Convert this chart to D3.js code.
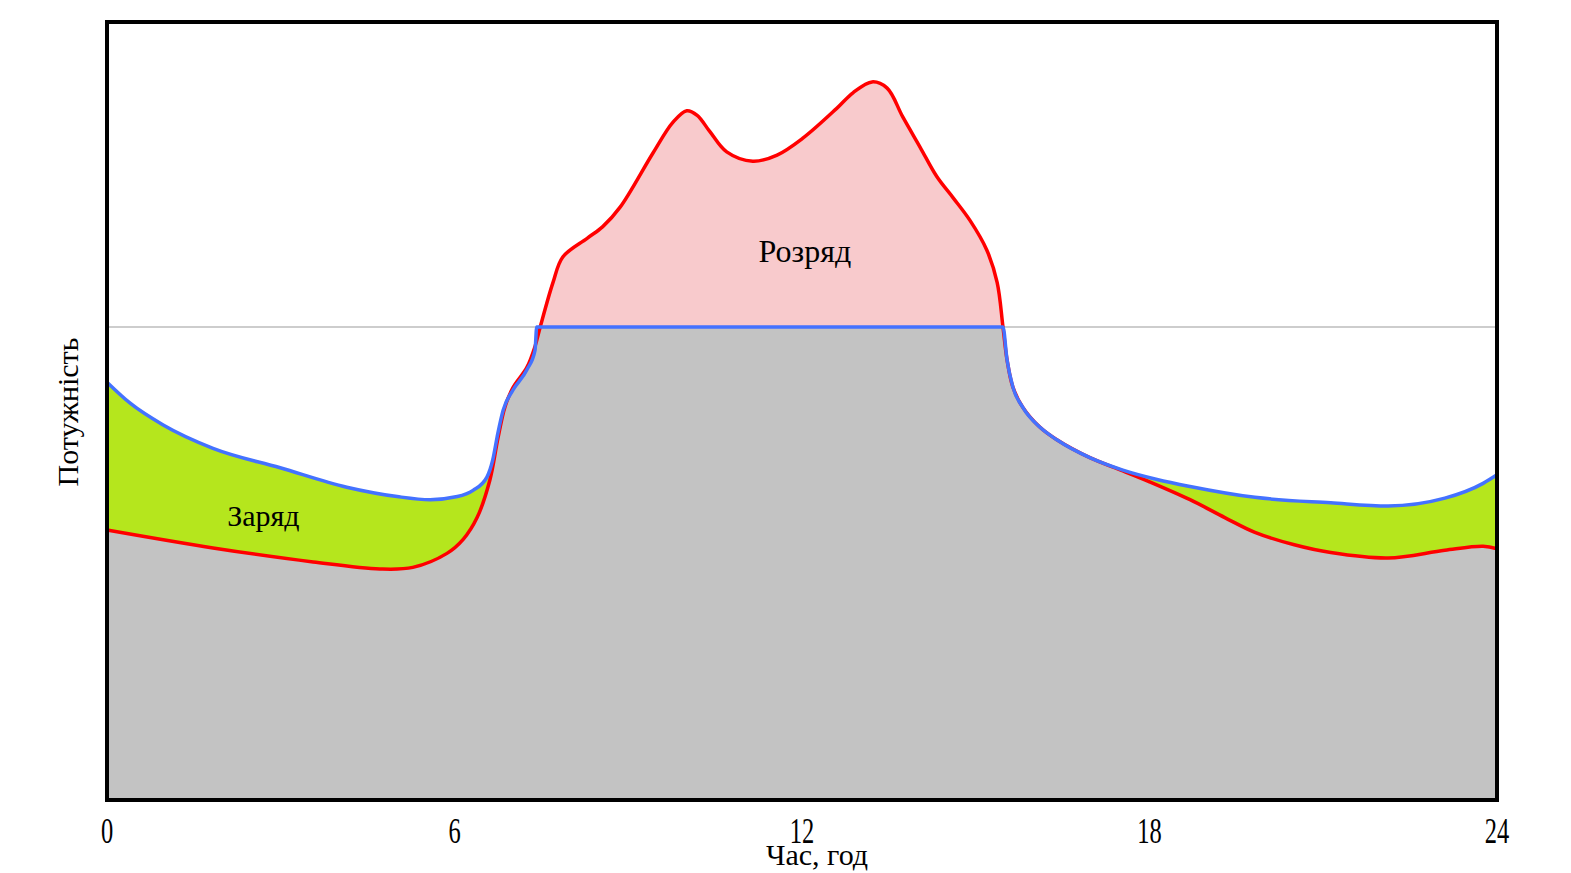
<!DOCTYPE html>
<html>
<head>
<meta charset="utf-8">
<script src="https://cdn.jsdelivr.net/npm/d3@7"></script>
<style>
  body { margin: 0; background: #fff; }
  text { font-family: "Liberation Serif", "Times New Roman", serif; fill: #000; }
</style>
</head>
<body>
<svg id="chart" width="1571" height="873"></svg>
<script>
'use strict'

// load profile (red), hours / power in relative units
var loadHours = [0, 1.83, 3.56, 4.71, 5.28, 5.87, 6.15, 6.39, 6.61, 6.75, 6.87, 7.01, 7.25, 7.39, 7.48, 7.70, 7.87, 8.29, 8.56, 8.86, 9.43, 9.77, 10.01, 10.19, 10.41, 10.70, 11.15, 11.57, 12.02, 12.60, 12.88, 13.21, 13.47, 13.74, 14.04, 14.33, 14.61, 14.90, 15.19, 15.37, 15.47, 15.54, 15.64, 15.81, 16.11, 16.40, 16.97, 17.54, 18.0, 18.70, 19.3, 19.82, 20.5, 21.13, 22.12, 23.10, 23.76, 24];
var loadValues = [34.7, 32.4, 30.6, 29.7, 29.9, 31.7, 33.5, 36.3, 41.1, 46.5, 50.5, 53.0, 55.6, 58.3, 60.8, 66.5, 69.8, 72.2, 73.7, 76.2, 83.2, 87.1, 88.6, 88.0, 85.9, 83.3, 82.1, 82.9, 85.1, 88.9, 90.9, 92.3, 91.5, 87.8, 83.9, 80.1, 77.4, 74.5, 70.7, 66.5, 60.8, 56.6, 53.1, 50.5, 47.9, 46.3, 44.0, 42.3, 40.9, 38.6, 36.3, 34.4, 32.8, 31.8, 31.1, 32.1, 32.6, 32.3];

// levelled profile with storage (blue)
var gridHours = [0, 0.40, 0.97, 1.83, 2.99, 4.14, 5.01, 5.58, 6.05, 6.32, 6.56, 6.66, 6.75, 6.84, 7.01, 7.25, 7.39, 7.42, 9, 11, 13, 15.47, 15.54, 15.64, 15.81, 16.11, 16.40, 16.97, 17.54, 18.13, 18.70, 19.82, 21.13, 22.12, 23.10, 23.76, 24];
var gridValues = [53.7, 51.0, 48.2, 45.2, 42.7, 40.2, 39.0, 38.6, 39.0, 39.8, 41.5, 43.7, 47.2, 50.1, 52.7, 55.3, 57.8, 60.8, 60.8, 60.8, 60.8, 60.8, 56.6, 53.1, 50.5, 47.9, 46.3, 44.0, 42.4, 41.2, 40.3, 38.9, 38.2, 37.8, 38.8, 40.7, 41.8];

var limitValue = 60.8;
var tickHours = [0, 6, 12, 18, 24];
var chargeLabel = "Заряд";
var dischargeLabel = "Розряд";

var margin = {left: 107, top: 22, right: 74, bottom: 73};
var width = 1571 - margin.left - margin.right;
var height = 873 - margin.top - margin.bottom;

var svg = d3.select('#chart');
var g = svg.append('g').attr('transform', 'translate(' + margin.left + ',' + margin.top + ')');

var x = d3.scaleLinear().domain([0, 24]).range([0, width]);
var y = d3.scaleLinear().domain([0, 100]).range([height, 0]);

var loadData = d3.zip(loadHours, loadValues);
var gridData = d3.zip(gridHours, gridValues);

var smooth = d3.curveCatmullRom.alpha(0.5);

var loadArea = d3.area()
	.x(function(d){ return x(d[0]); })
	.y0(height)
	.y1(function(d){ return y(d[1]); })
	.curve(smooth);

var gridArea = d3.area()
	.x(function(d){ return x(d[0]); })
	.y0(height)
	.y1(function(d){ return y(d[1]); })
	.curve(d3.curveMonotoneX);

var loadLine = d3.line()
	.x(function(d){ return x(d[0]); })
	.y(function(d){ return y(d[1]); })
	.curve(smooth);

var gridLine = d3.line()
	.x(function(d){ return x(d[0]); })
	.y(function(d){ return y(d[1]); })
	.curve(d3.curveMonotoneX);

// clip used to keep the grey part under both curves
svg.append('defs').append('clipPath').attr('id', 'underLoad')
	.append('path').attr('d', loadArea(loadData));

g.append('path').attr('d', loadArea(loadData)).attr('fill', '#f8cacc');
g.append('path').attr('d', gridArea(gridData)).attr('fill', '#b5e61d');
g.append('path').attr('d', gridArea(gridData)).attr('fill', '#c3c3c3').attr('clip-path', 'url(#underLoad)');

// limit line
g.append('line')
	.attr('x1', 0).attr('x2', width)
	.attr('y1', y(limitValue)).attr('y2', y(limitValue))
	.attr('stroke', '#bdbdbd').attr('stroke-width', 1.5);

g.append('path').attr('d', loadLine(loadData))
	.attr('fill', 'none').attr('stroke', '#ff0000').attr('stroke-width', 3.5);
g.append('path').attr('d', gridLine(gridData))
	.attr('fill', 'none').attr('stroke', '#4472ff').attr('stroke-width', 3.5);

// frame
g.append('rect')
	.attr('width', width).attr('height', height)
	.attr('fill', 'none').attr('stroke', '#000').attr('stroke-width', 4);

// x tick labels (narrow like in the original)
g.selectAll('.tick-label')
	.data(tickHours)
	.enter()
	.append('text')
	.attr('class', 'tick-label')
	.attr('transform', function(d){ return 'translate(' + x(d) + ',' + (height + 43) + ') scale(0.7,1)'; })
	.attr('text-anchor', 'middle')
	.style('font-size', '35px')
	.text(function(d){ return d; });

g.append('text')
	.attr('x', width / 2 + 15).attr('y', height + 65)
	.attr('text-anchor', 'middle')
	.style('font-size', '30px')
	.text('Час, год');

svg.append('text')
	.attr('transform', 'translate(78,' + (margin.top + 390) + ') rotate(-90)')
	.attr('text-anchor', 'middle')
	.style('font-size', '30px')
	.text('Потужність');

g.append('text')
	.attr('x', x(2.7)).attr('y', y(35.2))
	.attr('text-anchor', 'middle')
	.style('font-size', '30px')
	.text(chargeLabel);

g.append('text')
	.attr('x', x(12.05)).attr('y', y(69.2))
	.attr('text-anchor', 'middle')
	.style('font-size', '32px')
	.text(dischargeLabel);
</script>
</body>
</html>
